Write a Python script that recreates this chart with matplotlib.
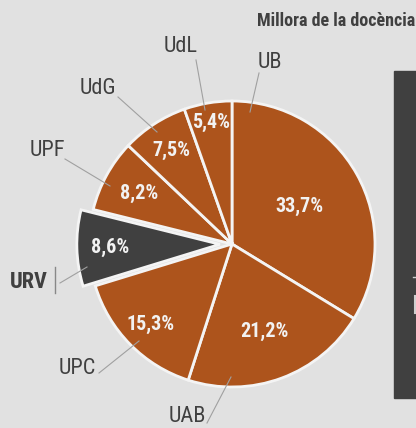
import matplotlib
matplotlib.use("Agg")
import matplotlib.pyplot as plt
from matplotlib.patches import Rectangle
from matplotlib import font_manager as fm
import numpy as np

# ---- data ----
universities = ["UB", "UAB", "UPC", "URV", "UPF", "UdG", "UdL"]
shares = [33.7, 21.2, 15.3, 8.6, 8.2, 7.5, 5.4]
title = "Millora de la docència"
highlight = "URV"

# ---- style ----
BG = "#e1e1e1"
ORANGE = "#ad541c"
DARK = "#404040"
LINE = "#a0a0a0"

names = {f.name for f in fm.fontManager.ttflist}
cands = ["Liberation Sans Narrow", "DejaVu Sans Condensed", "Roboto Condensed", "Open Sans Condensed", "Noto Sans"]
fam = [c for c in cands if c in names] + ["DejaVu Sans"]
plt.rcParams["font.family"] = fam

W, H = 416, 428
CX, CY, R = 232, 244, 143

def px(x, y):
    return ((x - CX) / R, (CY - y) / R)

fig = plt.figure(figsize=(W / 100, H / 100), dpi=100, facecolor=BG)
ax = fig.add_axes([0, 0, 1, 1])
ax.set_facecolor(BG)

colors = [DARK if u == highlight else ORANGE for u in universities]
explode = [0.085 if u == highlight else 0 for u in universities]
wedges, _ = ax.pie(shares, startangle=90, counterclock=False, colors=colors,
                   explode=explode, radius=1,
                   wedgeprops=dict(edgecolor="#f4f4f4", linewidth=2))

x0, y0 = px(0, H)
x1, y1 = px(W, 0)
ax.set_xlim(x0, x1)
ax.set_ylim(y0, y1)
ax.set_aspect("auto")
ax.axis("off")

pct_dist = [0.54, 0.65, 0.80, 0.77, 0.74, 0.78, 0.86]
for w, v, d in zip(wedges, shares, pct_dist):
    th = np.deg2rad((w.theta1 + w.theta2) / 2)
    cx, cy = w.center
    ax.text(cx + d * np.cos(th), cy + d * np.sin(th), f"{v:.1f}%".replace(".", ","),
            ha="center", va="center", color="#f2f2f2", fontsize=14.5, fontweight="bold")

# name labels: (text pos px, line start px, line end px)
label_pos = {
    "UB": ((270, 62), (259, 73), (250, 112)),
    "UdL": ((181, 47), (196, 60), (205, 110)),
    "UdG": ((98, 88), (118, 97), (157, 132)),
    "UPF": ((47, 150), (65, 159), (110, 186)),
    "URV": ((29, 282), (60, 283), (87, 267)),
    "UPC": ((77, 369), (99, 373), (139, 341)),
    "UAB": ((187, 416), (207, 423), (231, 377)),
}
for u in universities:
    (tx, ty), (ax0, ay0), (ax1, ay1) = label_pos[u]
    bold = u == highlight
    ax.text(*px(tx, ty), u, ha="center", va="center", color=DARK,
            fontsize=16, fontweight="bold" if bold else "normal")
    ax.plot(*zip(px(ax0, ay0), px(ax1, ay1)), color=LINE, lw=0.8)
# bar after URV
ax.plot(*zip(px(55, 267), px(55, 293)), color="#888888", lw=1)

# title
fig.text(257 / W, 1 - 21 / H, title, ha="left", va="center", color=DARK,
         fontsize=13, fontweight="bold")

# dark side panel
fig.patches.append(Rectangle((394 / W, 1 - 398 / H), 30 / W, 327 / H,
                             transform=fig.transFigure, color="#404040", zorder=0))
# cut-off marks of the neighbouring panel
fig.lines.append(plt.Line2D([413 / W, 416 / W], [1 - 277 / H, 1 - 277 / H],
                            transform=fig.transFigure, color="#cfcfcf", lw=1))
fig.lines.append(plt.Line2D([415 / W, 415 / W], [1 - 296 / H, 1 - 313 / H],
                            transform=fig.transFigure, color="#cfcfcf", lw=1.5))

fig.savefig("out.png", dpi=100, facecolor=BG)
